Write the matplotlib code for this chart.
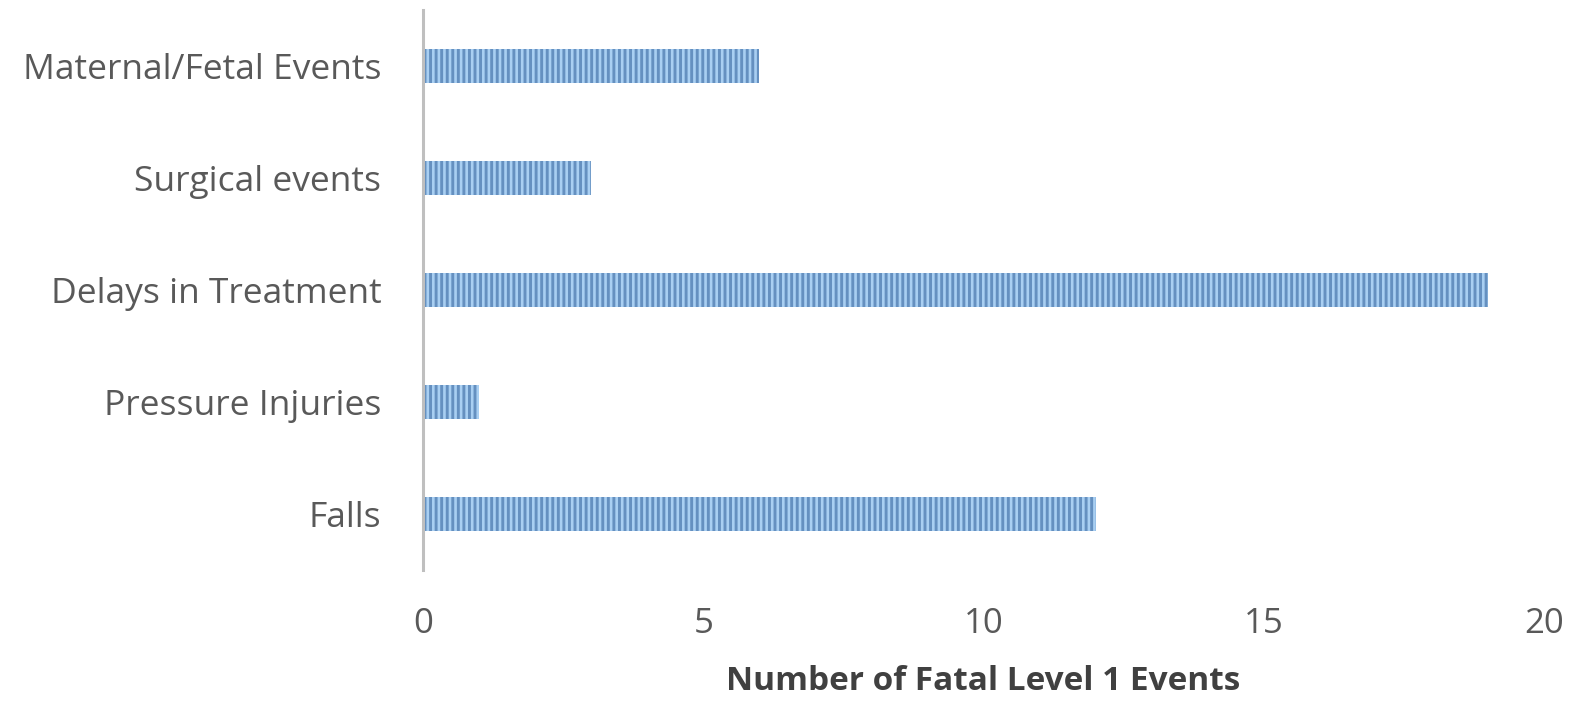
import matplotlib.pyplot as plt

categories = ["Falls", "Pressure Injuries", "Delays in Treatment",
              "Surgical events", "Maternal/Fetal Events"]
counts = [12, 1, 19, 3, 6]
xticks = [0, 5, 10, 15, 20]


def main():
    plt.rcParams["font.family"] = ["Open Sans", "DejaVu Sans"]
    plt.rcParams["hatch.linewidth"] = 2.1

    fig = plt.figure(figsize=(15.73, 7.01), dpi=100)
    ax = fig.add_axes([0.269, 0.187, 0.7126, 0.7987])

    # light blue fill with dark vertical stripes (hatch takes the edge colour)
    ax.barh(range(len(categories)), counts, height=0.31,
            color="#a9cff2", edgecolor="#6590c0", linewidth=0,
            hatch="|||")

    ax.set_xlim(0, 20)
    ax.set_ylim(-0.5, len(categories) - 0.5)
    ax.set_yticks(range(len(categories)))
    ax.set_yticklabels(categories)
    ax.set_xticks(xticks)

    ax.tick_params(axis="y", length=0, pad=30, labelsize=25.5,
                   labelcolor="#595959")
    ax.tick_params(axis="x", length=0, pad=27, labelsize=25,
                   labelcolor="#595959")

    for side in ["top", "right", "bottom"]:
        ax.spines[side].set_visible(False)
    ax.spines["left"].set_color("#bfbfbf")
    ax.spines["left"].set_linewidth(2.2)

    ax.set_xlabel("Number of Fatal Level 1 Events", fontsize=24,
                  fontweight="bold", color="#404040", labelpad=17)

    fig.savefig("out.png", dpi=100)


if __name__ == "__main__":
    main()
